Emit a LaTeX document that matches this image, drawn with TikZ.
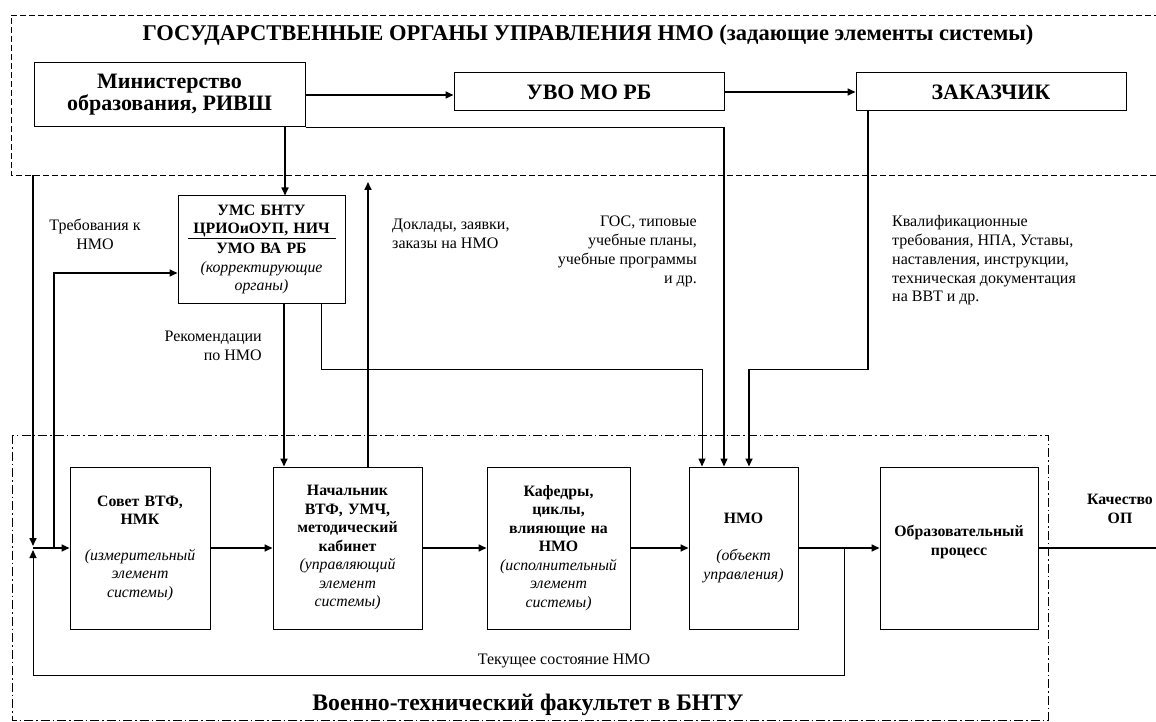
\documentclass[tikz,border=0pt]{standalone}
\usepackage{fontspec}
\setmainfont{Liberation Serif}
\usetikzlibrary{arrows.meta}
\providecommand{\titlefontsize}{\fontsize{22.5}{26}\selectfont\bfseries}
\providecommand{\facultyfontsize}{\fontsize{23.7}{27}\selectfont\bfseries}
\providecommand{\headfontsize}{\fontsize{22}{22}\selectfont\bfseries}
\providecommand{\boxfontsize}{\fontsize{15.8}{18.5}\selectfont}
\providecommand{\labelfontsize}{\fontsize{16}{18.8}\selectfont}
\tikzset{
    block/.style={draw,line width=1pt,inner sep=0pt,align=center,font=\boxfontsize},
    rowblock/.style={block,minimum height=162pt},
    conn/.style={line width=1.6pt},
    thinconn/.style={line width=1pt},
    tip/.style={-{Triangle[length=8pt,width=7pt]}},
    lbl/.style={font=\labelfontsize,inner sep=0pt},
}

\begin{document}
\begin{tikzpicture}[x=1pt,y=-1pt]
    \useasboundingbox (0,0) rectangle (1156,722);
    % frames
    \draw[line width=0.8pt,dash pattern=on 6pt off 3pt] (1160,15) -- (11,15) -- (11,175) -- (1160,175);
    \draw[line width=0.8pt,dash pattern=on 9pt off 3pt on 1.5pt off 3pt] (12,435) rectangle (1048,720);
    \node[font=\titlefontsize] (govtitle) at (588,35) {ГОСУДАРСТВЕННЫЕ ОРГАНЫ УПРАВЛЕНИЯ НМО (задающие элементы системы)};
    \node[font=\facultyfontsize] (faculty) at (528,705) {Военно-технический факультет в БНТУ};

    \node[block,minimum width=271pt,minimum height=64pt,font=\headfontsize] (ministry) at (169.5,95) {Министерство\\образования, РИВШ};
    \node[block,minimum width=270pt,minimum height=38pt,font=\headfontsize] (uvo) at (589,92) {УВО МО РБ};
    \node[block,minimum width=270pt,minimum height=38pt,font=\headfontsize] (customer) at (991,92) {ЗАКАЗЧИК};
    \node[block,minimum width=167pt,minimum height=107pt,text width=162pt] (ums) at (261.5,249.5)
    {{\bfseries УМС БНТУ\\ЦРИОиОУП, НИЧ}\\[-13pt]\rule{148pt}{0.8pt}\\[-4pt]{\bfseries УМО ВА РБ}\\\itshape (корректирующие\\органы)};

    \node[rowblock,minimum width=140pt,text width=136pt] (council) at (140,548)
    {{\bfseries Совет ВТФ,\\НМК}\\[17pt]\itshape (измерительный\\элемент\\системы)};
    \node[rowblock,minimum width=149pt,text width=145pt] (chief) at (347.5,548)
    {{\bfseries Начальник\\ВТФ, УМЧ,\\методический\\кабинет}\\\itshape (управляющий\\элемент\\системы)};
    \node[rowblock,minimum width=143pt,text width=139pt] (chairs) at (558.5,548)
    {{\bfseries Кафедры,\\циклы,\\влияющие на\\НМО}\\\itshape (исполнительный\\элемент\\системы)};
    \node[rowblock,minimum width=109pt,text width=105pt] (nmo) at (743.5,548)
    {{\bfseries НМО}\\[18.5pt]\itshape (объект\\управления)};
    \node[rowblock,minimum width=158pt,text width=154pt] (process) at (959,548)
    {{\bfseries Образовательный\\процесс}\\[-3.5pt]\mbox{}};

    \coordinate (demands) at (33,175);
    \coordinate (junction) at (33,548);
    \coordinate (branch) at (54,548);
    \coordinate (reports) at (368,182);
    \coordinate (tap) at (844,548);
    \coordinate (quality) at (1156,548);

    \draw[conn,tip] (ministry.east) -- (ministry.east -| uvo.west);
    \draw[conn,tip] (uvo.east) -- (customer.west);
    \draw[conn,tip] ([xshift=23.5pt]ums.north |- ministry.south) -- ([xshift=23.5pt]ums.north);
    \draw[conn,tip] ([xshift=20.5pt]chief.north) -- (reports);
    \draw[conn,tip] ([xshift=22.5pt]ums.south) -- ([xshift=22.5pt]ums.south |- chief.north);
    \draw[thinconn,tip] ([xshift=59.5pt]ums.south) -- ++(0,66) -| ([xshift=-41.5pt]nmo.north);
    \draw[line width=1.3pt,tip] (ministry.south east) -| ([xshift=-19.5pt]nmo.north);
    \draw[conn,tip] ([xshift=-123pt]customer.south) -- ++(0,258) -| ([xshift=5.5pt]nmo.north);
    \draw[conn,tip,shorten >=2pt] (demands) -- (junction);
    \draw[conn,tip] (junction) -- (council.west);
    \draw[conn,tip] (branch) |- ([yshift=-23.5pt]ums.west);
    \draw[conn,tip] (council) -- (chief);
    \draw[conn,tip] (chief) -- (chairs);
    \draw[conn,tip] (chairs) -- (nmo);
    \draw[conn,tip] (nmo) -- (process);
    \draw[thinconn,tip,shorten >=2pt] (tap) -- ++(0,127) -| (junction);
    \draw[conn] (process) -- (quality);

    \node[lbl,align=center] (demandslbl) at (95,234) {Требования к\\НМО};
    \node[lbl,align=right,anchor=east] (recs) at (262,346) {Рекомендации\\по НМО};
    \node[lbl,align=left,anchor=west] (reportslbl) at (392,234) {Доклады, заявки,\\заказы на НМО};
    \node[lbl,align=right,anchor=east] (standards) at (697,251.5) {ГОС, типовые\\учебные планы,\\учебные программы\\и др.};
    \node[lbl,align=left,anchor=west] (regulations) at (892,260.5) {Квалификационные\\требования, НПА, Уставы,\\наставления, инструкции,\\техническая документация\\на ВВТ и др.};
    \node[lbl] (state) at (564,661) {Текущее состояние НМО};
    \node[lbl,align=center,font=\boxfontsize\bfseries] (qualitylbl) at (1120,509) {Качество\\ОП};
\end{tikzpicture}
\end{document}
